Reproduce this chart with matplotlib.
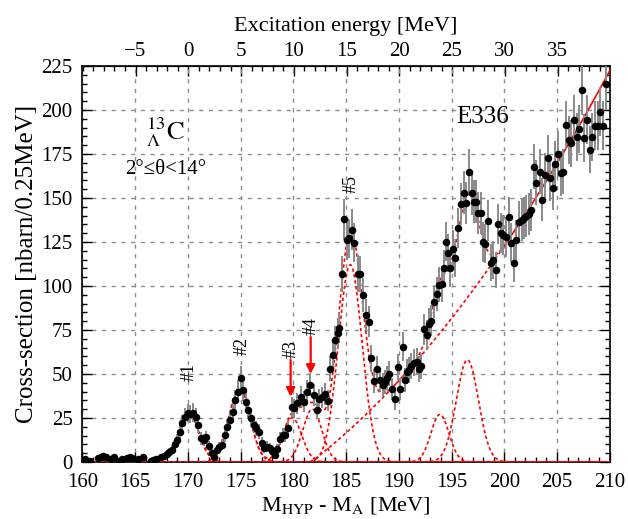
import numpy as np
import matplotlib
matplotlib.use("Agg")
import matplotlib.pyplot as plt
from matplotlib.ticker import MultipleLocator

plt.rcParams.update({
    "font.family": ["Liberation Serif", "DejaVu Serif"],
    "mathtext.fontset": "stix",
    "font.size": 15,
})

# measured spectrum (M_HYP - M_A [MeV], counts, error)
mass = [160.25, 160.75, 161.5, 161.75, 162.0, 162.25, 162.75, 163.0, 163.5, 163.75,
        164.25, 164.5, 164.75, 165.25, 165.75, 166.5, 166.75, 167.0, 167.5, 167.75,
        168.0, 168.25, 168.5, 168.75, 169.0, 169.25, 169.5, 169.75, 170.0, 170.25,
        170.5, 170.75, 171.0, 171.25, 171.5, 171.75, 172.0, 172.25, 172.5, 172.75,
        173.0, 173.25, 173.5, 173.75, 174.0, 174.25, 174.5, 174.75, 175.0, 175.25,
        175.5, 175.75, 176.0, 176.25, 176.5, 176.75, 177.0, 177.25, 177.5, 177.75,
        178.0, 178.25, 178.5, 178.75, 179.0, 179.25, 179.5, 179.85, 180.1, 180.4,
        180.7, 181.0, 181.3, 181.6, 181.95, 182.25, 182.45, 182.7, 183.0, 183.25,
        183.5, 183.75, 184.0, 184.2, 184.35, 184.6, 184.85, 185.1, 185.3, 185.55,
        185.8, 186.1, 186.35, 186.6, 186.9, 187.15, 187.4, 187.65, 187.9, 188.2,
        188.5, 188.7, 188.9, 189.1, 189.4, 189.6, 189.9, 190.15, 190.4, 190.6,
        190.8, 191.0, 191.2, 191.45, 191.7, 191.9, 192.1, 192.4, 192.65, 192.9,
        193.1, 193.35, 193.6, 193.85, 194.05, 194.25, 194.45, 194.65, 194.85, 195.1,
        195.35, 195.6, 195.9, 196.15, 196.4, 196.65, 196.9, 197.1, 197.35, 197.55,
        197.75, 197.95, 198.2, 198.45, 198.7, 198.9, 199.2, 199.4, 199.65, 199.9,
        200.15, 200.4, 200.65, 200.9, 201.15, 201.4, 201.65, 201.9, 202.1, 202.35,
        202.55, 202.8, 203.05, 203.35, 203.6, 203.85, 204.1, 204.35, 204.6, 204.85,
        205.1, 205.35, 205.6, 205.85, 206.1, 206.35, 206.6, 206.85, 207.1, 207.35,
        207.6, 207.85, 208.1, 208.35, 208.6, 208.85, 209.1, 209.35, 209.6]
counts = [1.5, 0.5, 2.5, 3.0, 3.4, 2.7, 1.5, 3.0, 0.5, 1.5,
          2.5, 3.0, 2.0, 1.5, 2.7, 0.5, 1.0, 1.5, 2.7, 3.4,
          4.5, 5.5, 6.8, 10.0, 12.5, 17.0, 22.0, 25.5, 27.6, 27.2,
          28.0, 25.8, 21.0, 13.4, 12.5, 14.0, 9.0, 5.0, 2.7, 6.8,
          8.3, 9.7, 15.3, 19.7, 23.9, 28.6, 35.2, 40.0, 47.6, 40.9,
          34.3, 29.5, 24.8, 21.0, 19.1, 17.2, 10.6, 7.8, 8.7, 7.8,
          6.0, 4.0, 7.2, 13.2, 15.3, 15.3, 19.1, 31.0, 30.5, 33.3,
          37.1, 34.3, 40.0, 43.8, 38.0, 29.5, 35.6, 36.7, 38.6, 34.8,
          53.0, 60.8, 69.0, 73.0, 76.0, 106.8, 137.9, 126.0, 127.0, 132.0,
          124.6, 107.0, 106.6, 95.0, 83.5, 79.7, 58.9, 46.2, 53.0, 46.6,
          43.8, 45.6, 47.6, 50.0, 41.3, 35.6, 54.1, 41.3, 65.5, 46.6,
          51.3, 52.3, 54.5, 56.4, 57.0, 52.7, 54.5, 75.4, 72.2, 78.4,
          80.3, 91.1, 95.5, 100.6, 101.1, 110.0, 125.2, 118.6, 110.0, 120.8,
          115.7, 132.8, 146.6, 153.0, 147.0, 165.0, 152.7, 147.9, 147.9, 141.6,
          141.3, 125.0, 124.0, 137.0, 113.2, 114.8, 109.0, 135.2, 130.3, 129.0,
          128.0, 139.0, 124.6, 112.9, 126.0, 136.5, 137.5, 138.5, 139.8, 140.9,
          143.2, 167.8, 158.7, 165.0, 148.9, 163.0, 172.6, 161.2, 155.5, 169.3,
          175.0, 164.0, 165.0, 191.5, 183.0, 181.0, 194.3, 184.8, 189.0, 211.4,
          184.0, 194.3, 177.3, 184.5, 191.0, 191.0, 199.0, 191.0, 214.8]
errors = [1.2, 0.8, 1.6, 1.7, 1.8, 1.6, 1.2, 1.7, 0.8, 1.2,
          1.6, 1.7, 1.4, 1.2, 1.6, 0.8, 1.0, 1.2, 1.6, 1.8,
          2.1, 2.3, 2.6, 3.1, 3.5, 4.1, 4.7, 5.0, 5.2, 5.2,
          5.3, 5.1, 4.6, 3.7, 3.5, 3.7, 3.0, 2.2, 1.6, 2.6,
          2.9, 3.1, 3.9, 4.4, 4.9, 5.3, 5.9, 6.3, 6.9, 6.4,
          5.9, 5.4, 5.0, 4.6, 4.4, 4.1, 3.3, 2.8, 2.9, 2.8,
          2.4, 2.0, 2.7, 3.6, 3.9, 3.9, 4.4, 5.6, 5.5, 5.8,
          6.1, 5.9, 6.3, 6.6, 6.2, 5.4, 6.0, 6.1, 6.2, 5.9,
          7.3, 7.8, 8.3, 8.5, 8.7, 10.3, 11.7, 11.2, 11.3, 11.5,
          11.2, 10.3, 10.3, 9.7, 9.1, 8.9, 7.7, 6.8, 7.3, 6.8,
          6.6, 6.8, 6.9, 7.1, 6.4, 6.0, 7.4, 6.4, 8.1, 6.8,
          7.2, 7.2, 7.4, 7.5, 7.5, 7.3, 7.4, 8.7, 8.5, 8.9,
          9.0, 9.5, 9.8, 10.0, 10.1, 10.5, 11.2, 10.9, 10.5, 11.0,
          10.8, 11.5, 12.1, 12.4, 12.1, 12.8, 12.4, 12.2, 12.2, 11.9,
          11.9, 11.2, 11.1, 11.7, 10.6, 10.7, 10.4, 11.6, 11.4, 11.4,
          11.3, 11.8, 11.2, 10.6, 11.2, 11.7, 11.7, 11.8, 11.8, 11.9,
          12.0, 13.0, 12.6, 12.8, 12.2, 12.8, 13.1, 12.7, 12.5, 13.0,
          13.2, 12.8, 12.8, 13.8, 13.5, 13.5, 13.9, 13.6, 13.7, 14.5,
          13.6, 13.9, 13.3, 13.6, 13.8, 13.8, 14.1, 13.8, 14.7]

# fit components: gaussian peaks + smooth background
peak_center = [170.1, 174.9, 179.9, 181.8, 185.4, 193.9, 196.5]
peak_height = [27.5, 42.0, 25.0, 30.0, 112.0, 27.0, 58.0]
peak_sigma = [0.95, 1.0, 0.9, 0.9, 1.12, 0.85, 1.05]
bg_start = 181.7
bg_lin, bg_quad = 4.6, 0.115

# peak labels and arrows
label_text = ["#1", "#2", "#3", "#4", "#5"]
label_x = [170.1, 175.15, 179.8, 181.7, 185.5]
label_y = [51, 66, 64, 77, 158]
arrow_x = [179.75, 181.65]
arrow_top = [58, 71]
arrow_tip = [37, 50]

EX_OFFSET = 170.05  # excitation energy = M - offset


def gauss(x, c, a, s):
    return a * np.exp(-0.5 * ((x - c) / s) ** 2)


def background(x):
    u = np.clip(x - bg_start, 0, None)
    return bg_lin * u + bg_quad * u ** 2


fig = plt.figure(figsize=(6.28, 5.19), dpi=100)
ax = fig.add_axes([0.131, 0.110, 0.840, 0.763])

ax.errorbar(mass, counts, yerr=errors, fmt="o", ms=4.4, color="black",
            ecolor="#8a8a8a", elinewidth=1.4, capsize=0, zorder=4)

xx = np.linspace(160, 210, 1500)
red_ls = dict(color="red", linestyle=(0, (2.0, 1.6)), linewidth=1.2, zorder=3)
total = background(xx)
for c, a, s in zip(peak_center, peak_height, peak_sigma):
    g = gauss(xx, c, a, s)
    total = total + g
    ax.plot(xx, g, **red_ls)
ax.plot(xx, background(xx), **red_ls)
ax.plot(xx, total, **red_ls)

for t, lx, ly in zip(label_text, label_x, label_y):
    ax.text(lx, ly, t, rotation=90, ha="center", va="center", fontsize=13)
for x0, y0, y1 in zip(arrow_x, arrow_top, arrow_tip):
    ax.annotate("", xy=(x0, y1), xytext=(x0, y0),
                arrowprops=dict(arrowstyle="-|>", color="red", lw=1.6,
                                mutation_scale=13, shrinkA=0, shrinkB=0))

ax.text(167.9, 187, r"${}^{13}_{\Lambda}\mathrm{C}$", ha="center", va="center",
        fontsize=19)
ax.text(167.9, 166, "2°≤θ<14°", ha="center", va="center", fontsize=15)
ax.text(197.9, 196, "E336", ha="center", va="center", fontsize=18)

ax.set_xlim(160, 210)
ax.set_ylim(0, 225)
ax.xaxis.set_major_locator(MultipleLocator(5))
ax.xaxis.set_minor_locator(MultipleLocator(1))
ax.yaxis.set_major_locator(MultipleLocator(25))
ax.yaxis.set_minor_locator(MultipleLocator(5))
ax.tick_params(which="both", direction="in", top=False, right=True,
               labelsize=15, width=1.0)
ax.tick_params(axis="x", pad=8)
ax.tick_params(axis="y", pad=7)
ax.tick_params(which="major", length=7)
ax.tick_params(which="minor", length=3.5)
ax.grid(True, which="major", color="#8c8c8c", linestyle=(0, (3, 4)),
        linewidth=1.0, zorder=0)
for sp in ax.spines.values():
    sp.set_linewidth(1.2)

ax.set_xlabel(r"M$_{\mathrm{HYP}}$ - M$_{\mathrm{A}}$ [MeV]", fontsize=16,
              labelpad=2)
ax.set_ylabel("Cross-section [nbarn/0.25MeV]", fontsize=18, labelpad=2)

top = ax.secondary_xaxis("top", functions=(lambda m: m - EX_OFFSET,
                                           lambda e: e + EX_OFFSET))
top.set_xticks(np.arange(-5, 40, 5))
top.xaxis.set_minor_locator(MultipleLocator(1))
top.tick_params(which="both", direction="in", labelsize=15, width=1.0)
top.tick_params(which="major", length=7)
top.tick_params(which="minor", length=3.5)
top.set_xlabel("Excitation energy [MeV]", fontsize=16, labelpad=8)

fig.savefig("out.png", dpi=100)
